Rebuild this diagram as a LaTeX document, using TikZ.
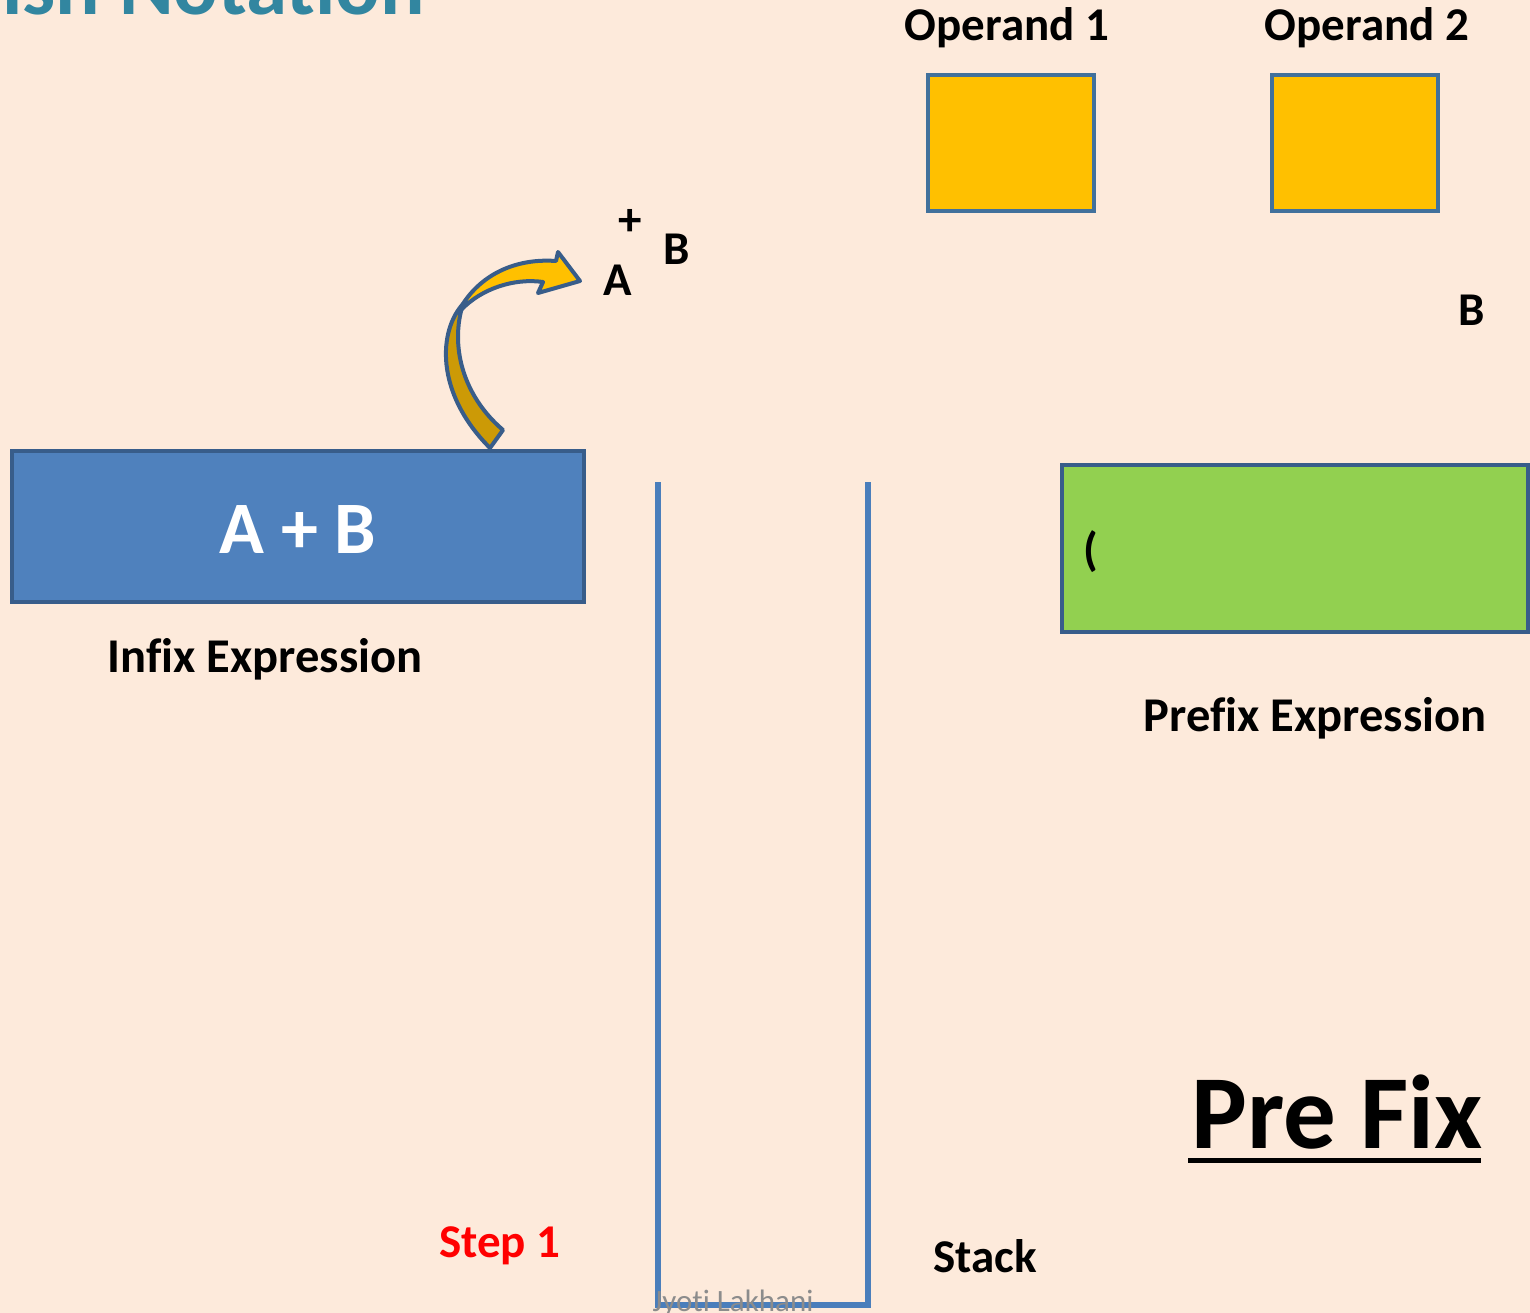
\documentclass[tikz,border=0pt]{standalone}
\usepackage{fontspec}
\setmainfont{Carlito}[Ligatures=NoCommon]
\definecolor{bg}{HTML}{FDEADB}
\definecolor{boxblue}{HTML}{4F81BD}
\definecolor{edgeblue}{HTML}{385D8A}
\definecolor{opyellow}{HTML}{FFC000}
\definecolor{opedge}{HTML}{41719C}
\definecolor{prefgreen}{HTML}{92D050}
\definecolor{stackblue}{HTML}{4A7EBB}
\definecolor{darkgold}{HTML}{CC9A06}
\definecolor{titleblue}{HTML}{3286A0}
\definecolor{wmgray}{HTML}{8C8C8C}
\begin{document}
\begin{tikzpicture}[x=1pt,y=-1pt,
  lbl/.style={font=\fontsize{47}{56}\selectfont\bfseries, inner sep=0pt, anchor=base},
  explbl/.style={font=\fontsize{48.5}{56}\selectfont\bfseries, inner sep=0pt, anchor=base},
  panel/.style={draw=edgeblue, line width=4pt, inner sep=0pt, outer sep=0pt, anchor=north west},
  stackline/.style={draw=stackblue, line width=6.5pt}]
\useasboundingbox (0,0) rectangle (1530,1313);
\fill[bg] (0,0) rectangle (1530,1313);

% title (clipped by page)
\node[font=\fontsize{83}{90}\selectfont\bfseries, text=titleblue, inner sep=0pt, anchor=base east] (title) at (425,15) {Polish Notation};

% operand labels and boxes
\node[lbl] (op1lbl) at (1007,41) {Operand 1};
\node[lbl] (op2lbl) at (1367,41) {Operand 2};
\node[panel, draw=opedge, fill=opyellow, minimum width=166pt, minimum height=136pt] (op1) at (928,75) {};
\node[panel, draw=opedge, fill=opyellow, minimum width=166pt, minimum height=136pt] (op2) at (1272,75) {};

% infix box
\node[panel, fill=boxblue, minimum width=572pt, minimum height=151pt] (infix) at (12,451) {};
\node[font=\fontsize{74}{80}\selectfont\bfseries, text=white, inner sep=0pt, anchor=base] (ab) at (298,553) {A + B};
\node[explbl] (infixlbl) at (265,672) {Infix Expression};

% scanned symbols
\node[lbl] (plus) at (630,236) {+};
\node[lbl] (bsym) at (677,265) {B};
\node[lbl] (asym) at (618,296) {A};
\node[lbl] (bright) at (1472,326) {B};

% curved arrow
\filldraw[fill=darkgold, draw=edgeblue, line width=4pt, line join=round]
  (463,304) .. controls (439,330) and (434,392) .. (490,448)
  -- (503,430) .. controls (462,395) and (450,345) .. (463,304) -- cycle;
\filldraw[fill=opyellow, draw=edgeblue, line width=4pt, line join=round]
  (461,307) .. controls (480,275) and (515,258) .. (556,261)
  -- (558,252) -- (580,281) -- (538,293) -- (543,282)
  .. controls (515,278) and (482,288) .. (461,310) -- cycle;

% stack
\coordinate (stl) at (658,482);
\coordinate (sbl) at (658,1305);
\coordinate (sbr) at (868,1305);
\coordinate (str) at (868,482);
\draw[stackline, line join=miter] (stl) -- (sbl) -- (sbr) -- (str);
\node[font=\fontsize{31}{36}\selectfont, text=wmgray, inner sep=0pt, anchor=base] (wm) at (733,1311) {Jyoti Lakhani};
\node[lbl, text=red] (step) at (500,1257) {Step 1};
\node[lbl] (stacklbl) at (985,1272) {Stack};

% prefix box
\node[panel, fill=prefgreen, minimum width=466pt, minimum height=167pt] (prefix) at (1062,465) {};
\node[lbl, anchor=center] (paren) at (1091,552) {(};
\node[explbl] (prefixlbl) at (1315,731) {Prefix Expression};

% Pre Fix
\node[font=\fontsize{105}{110}\selectfont\bfseries, inner sep=0pt, anchor=base] (pf) at (1337,1148) {Pre Fix};
\draw[line width=5pt] (1188,1160) -- (1481,1160);
\end{tikzpicture}
\end{document}
